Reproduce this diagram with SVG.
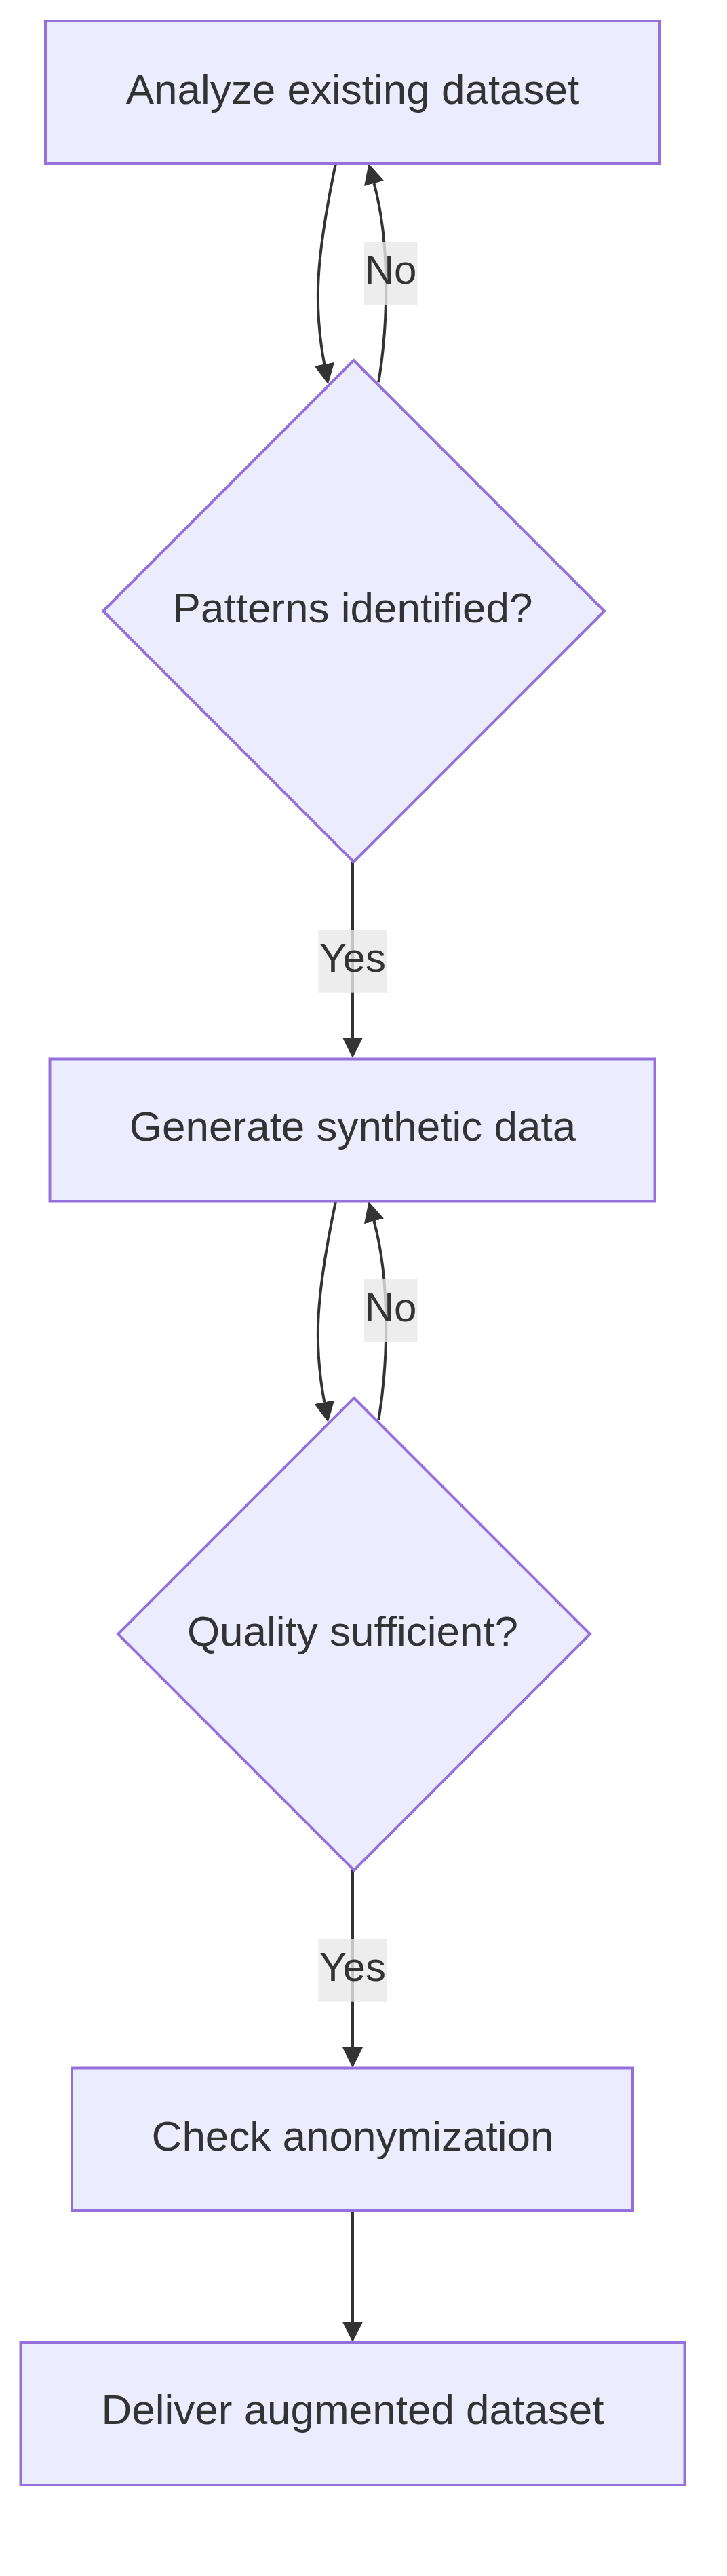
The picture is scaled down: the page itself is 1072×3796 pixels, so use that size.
<svg xmlns="http://www.w3.org/2000/svg" width="1072" height="3796" viewBox="0 0 1072 3796">
<style>
.node rect,.node polygon{fill:#ECECFF;stroke:#9370DB;stroke-width:4}
.nl{font-family:"Liberation Sans",Arial,sans-serif;font-size:62px;fill:#333333;text-anchor:middle}
.edge{fill:none;stroke:#333333;stroke-width:4}
.lbg{fill:rgba(232,232,232,0.8)}
.el{font-family:"Liberation Sans",Arial,sans-serif;font-size:60px;fill:#333333;text-anchor:middle}
</style>
<defs>
<marker id="arrow" viewBox="0 0 10 10" refX="0" refY="5" markerUnits="userSpaceOnUse" markerWidth="30" markerHeight="30" orient="auto">
<path d="M0,0 L10,5 L0,10 z" fill="#333333"/>
</marker>
</defs>
<rect width="1072" height="3796" fill="#ffffff"/>
<g id="edges">
<path class="edge" d="M495,241 C466,380 462,450 478.3,536.7" marker-end="url(#arrow)"/>
<path class="edge" d="M558.3,563.3 C572,480 576,360 551.5,270" marker-end="url(#arrow)"/>
<path class="edge" d="M520,1270 L520,1529" marker-end="url(#arrow)"/>
<path class="edge" d="M495,1770.5 C466,1909.5 462,1979.5 478.3,2066.2" marker-end="url(#arrow)"/>
<path class="edge" d="M558.3,2092.8 C572,2009.5 576,1889.5 551.5,1799.5" marker-end="url(#arrow)"/>
<path class="edge" d="M520,2756 L520,3017" marker-end="url(#arrow)"/>
<path class="edge" d="M520,3257 L520,3421.5" marker-end="url(#arrow)"/>
</g>
<g id="edge-labels">
<g id="label-no-1"><rect class="lbg" x="537" y="356" width="78.5" height="93"/><text class="el" x="576" y="417.5">No</text></g>
<g id="label-yes-1"><rect class="lbg" x="469.3" y="1370" width="101.4" height="92.7"/><text class="el" x="520" y="1431.7">Yes</text></g>
<g id="label-no-2"><rect class="lbg" x="537" y="1885" width="78.5" height="93"/><text class="el" x="576" y="1946.5">No</text></g>
<g id="label-yes-2"><rect class="lbg" x="469.3" y="2857" width="101.4" height="92.7"/><text class="el" x="520" y="2918.7">Yes</text></g>
</g>
<g id="n1" class="node"><rect x="67" y="31" width="905" height="210"/><text class="nl" x="520" y="153">Analyze existing dataset</text></g>
<g id="d1" class="node"><polygon points="521.5,531 891,900.5 521.5,1270 152,900.5"/><text class="nl" x="520" y="917">Patterns identified?</text></g>
<g id="n2" class="node"><rect x="73.5" y="1560.5" width="892" height="210"/><text class="nl" x="520" y="1681">Generate synthetic data</text></g>
<g id="d2" class="node"><polygon points="522,2060 870,2408 522,2756 174,2408"/><text class="nl" x="520" y="2425">Quality sufficient?</text></g>
<g id="n3" class="node"><rect x="106" y="3047.5" width="827" height="209.5"/><text class="nl" x="520" y="3168.5">Check anonymization</text></g>
<g id="n4" class="node"><rect x="30.5" y="3452" width="979" height="210"/><text class="nl" x="520" y="3572">Deliver augmented dataset</text></g>
</svg>
